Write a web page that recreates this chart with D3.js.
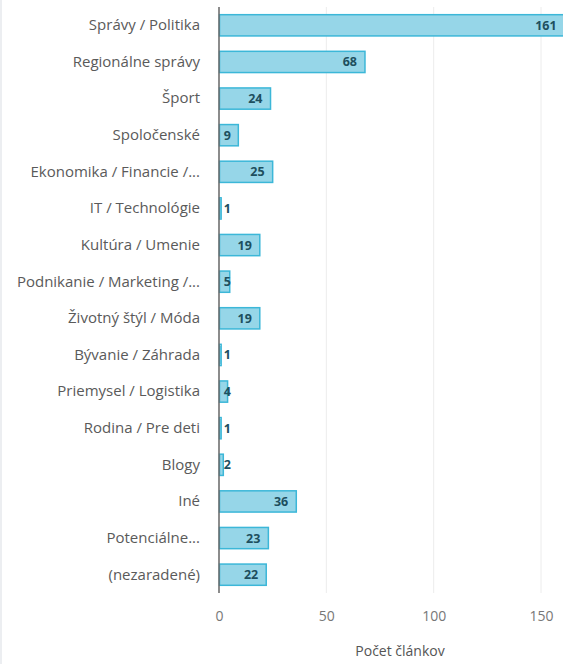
<!DOCTYPE html>
<html><head><meta charset="utf-8">
<script src="https://cdn.jsdelivr.net/npm/d3@7"></script>
<style>
html,body{margin:0;padding:0;background:#fff;overflow:hidden;}
svg{display:block;font-family:"Open Sans","Noto Sans",sans-serif;}
</style></head>
<body>
<svg id="chart" width="563" height="664"></svg>
<script>
const categories = ["Správy / Politika","Regionálne správy","Šport","Spoločenské","Ekonomika / Financie /...","IT / Technológie","Kultúra / Umenie","Podnikanie / Marketing /...","Životný štýl / Móda","Bývanie / Záhrada","Priemysel / Logistika","Rodina / Pre deti","Blogy","Iné","Potenciálne...","(nezaradené)"];
const values = [161,68,24,9,25,1,19,5,19,1,4,1,2,36,23,22];
const tickValues = [0,50,100,150];
const axisTitle = "Počet článkov";

const svg = d3.select("#chart");
const W = 563, H = 664;
const x0 = 219;
const x = d3.scaleLinear().domain([0,150]).range([x0, 541]);
const y = d3.scaleBand().domain(categories).range([7, 593]).paddingInner(0.42).paddingOuter(0.21);

// left faint border
svg.append("rect").attr("x",0).attr("y",0).attr("width",2).attr("height",H).attr("fill","#eceef1");

// gridlines
svg.append("g").selectAll("line").data(tickValues.filter(d=>d>0)).join("line")
  .attr("x1",d=>x(d)).attr("x2",d=>x(d)).attr("y1",7).attr("y2",593)
  .attr("stroke","#ececec").attr("stroke-width",1);

// bars
svg.append("defs").append("clipPath").attr("id","c").append("rect")
  .attr("x",0).attr("y",0).attr("width",W).attr("height",H);
svg.append("g").attr("clip-path","url(#c)").selectAll("rect").data(values).join("rect")
  .attr("x",x(0)+0.5)
  .attr("y",(d,i)=>y(categories[i]))
  .attr("width",d=>Math.max(x(d)-x(0)-0.5,0.5))
  .attr("height",y.bandwidth())
  .attr("fill","#96d6e8").attr("stroke","#3cb7d8").attr("stroke-width",1.5);

// value labels
svg.append("g").selectAll("text").data(values).join("text")
  .attr("x",d=>Math.max(x(d)-8, x0+12))
  .attr("y",(d,i)=>y(categories[i])+y.bandwidth()/2)
  .attr("dy","0.36em").attr("text-anchor","end")
  .attr("font-size",12.5).attr("font-weight",700).attr("fill","#1d4f5e")
  .text(d=>d);

// y axis line
svg.append("line").attr("x1",x0).attr("x2",x0).attr("y1",7).attr("y2",593)
  .attr("stroke","#666").attr("stroke-width",1.5);

// category labels
const yAxis = d3.axisLeft(y).tickSize(0).tickPadding(19);
const gy = svg.append("g").attr("transform",`translate(${x0},0)`).call(yAxis);
gy.select(".domain").remove();
gy.selectAll("text").attr("font-size",15).attr("fill","#5a5a5a").attr("font-family","'Open Sans','Noto Sans',sans-serif");

// x axis tick labels
const xAxis = d3.axisBottom(x).tickValues(tickValues).tickSize(0).tickPadding(0);
const gx = svg.append("g").attr("transform","translate(0,611)").call(xAxis);
gx.select(".domain").remove();
gx.selectAll("text").attr("font-size",14).attr("fill","#777").attr("font-family","'Open Sans','Noto Sans',sans-serif");

svg.append("text").attr("x",400).attr("y",656).attr("text-anchor","middle")
  .attr("font-size",14).attr("fill","#555").text(axisTitle);
</script>
</body></html>
